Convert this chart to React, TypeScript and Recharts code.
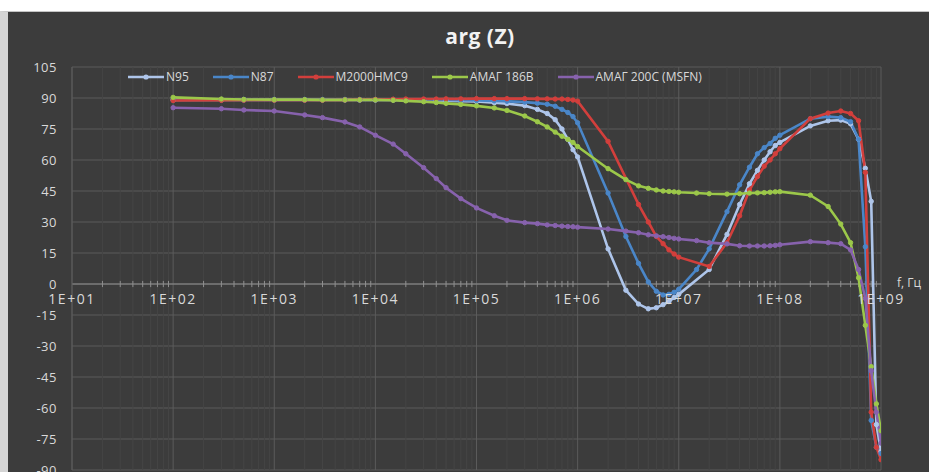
import React from "react";
import { CartesianGrid, Line, LineChart, ReferenceLine, XAxis, YAxis } from "recharts";

const FONT = "'Open Sans', 'DejaVu Sans', sans-serif";
const BG = "#3c3c3c";
const TEXT = "#d9d9d9";
const GRID = "#5b5b5b";
const GRID_MINOR = "#454545";
const AXIS = "#8f8f8f";

// Frequency points, Hz
const FREQ = [
  1e2, 3e2, 5e2, 1e3, 2e3, 3e3, 5e3, 7e3, 1e4, 1.5e4, 2e4, 3e4, 4e4, 5e4, 7e4,
  1e5, 1.5e5, 2e5, 3e5, 4e5, 5e5, 6e5, 7e5, 8e5, 9e5,
  1e6, 2e6, 3e6, 4e6, 5e6, 6e6, 7e6, 8e6, 9e6, 1e7, 1.5e7,
  2e7, 3e7, 4e7, 5e7, 6e7, 7e7, 8e7, 9e7, 1e8,
  2e8, 3e8, 4e8, 5e8, 6e8, 7e8, 8e8, 9e8, 1e9,
];

// arg(Z), degrees; null = no measurement at that frequency
const N95 = [
  89, 89, 89, 89, 89, 89, 89, 89, 89, 89, 89, 88.9, 88.8, 88.7, 88.5,
  88.3, 87.7, 87.3, 86.3, 84.5, 82.5, 79.5, 75, 70, 65,
  61.5, 17, -3, -9.7, -12, -11.5, -10, -8.5, -6.5, -5, null,
  7, 24, 38.5, 48.5, 55, 60, 64, 67, 68.5,
  76.5, 79, 79.3, 77.5, 70, 56, 40, -68, -81,
];
const N87 = [
  89.3, 89.3, 89.3, 89.3, 89.3, 89.3, 89.3, 89.3, 89.3, 89.3, 89.2, 89.1, 89, 89, 88.9,
  88.8, 88.6, 88.4, 88, 87.5, 87, 86, 84.5, 83, 81,
  78, 44, 23, 10, 1, -3.5, -5.3, -5, -4, -2.5, 7,
  17, 35, 48, 56.5, 63, 66, 68, 70.5, 72,
  80, 81, 80.5, 78.5, 70, 18, -66, -79, -82,
];
const M2000 = [
  88.8, 88.9, 89, 89, 89, 89, 89.1, 89.2, 89.3, 89.4, 89.5, 89.5, 89.5, 89.6, 89.6,
  89.7, 89.7, 89.7, 89.7, 89.6, 89.6, 89.5, 89.5, 89.3, 89,
  88.5, 69, null, 38.5, 30, 23, 19.5, 16.5, 14.5, 13, null,
  8.5, 20, 33, 45.5, 52, 57, 60, 63, 65.5,
  80, 82.7, 83.7, 82.5, 79, 54, -62, -79, -85,
];
const AMAG186 = [
  90.3, 89.5, 89.3, 89.2, 89.2, 89.1, 89.1, 89.1, 89.1, 88.9, 88.6, 88.2, 87.8, 87.4, 86.9,
  86.2, 85.2, 84, 81.3, 78.5, 76, 73.5, 71.5, 70, 68.5,
  66.5, 55.8, 50.5, 47.5, 46.3, 45.5, 45, 44.8, 44.6, 44.4, 44,
  43.7, 43.5, 43.7, 44, 44.1, 44.2, 44.4, 44.6, 44.7,
  43, 37.5, 29, 20, 3, -20, -40, -58, -71,
];
const AMAG200 = [
  85.3, 84.8, 84.2, 83.7, 81.8, 80.5, 78.4, 76, 72, 67.7, 63, 56.3, 51, 46.6, 41.3,
  36.8, 33, 30.8, 29.7, 29.2, 28.6, 28.3, 28, 27.8, 27.7,
  27.5, 26.6, 25.6, 24.8, 23.8, 23.3, 22.9, 22.5, 22.1, 21.8, 21,
  20, 19.4, 18.5, 18.4, 18.4, 18.4, 18.5, 18.7, 19,
  20.5, 20, 19.5, 16.5, 7, -7, -42, -62, -77,
];

const Y_TICKS = [-90, -75, -60, -45, -30, -15, 0, 15, 30, 45, 60, 75, 90, 105];
const DECADES = [1e1, 1e2, 1e3, 1e4, 1e5, 1e6, 1e7, 1e8, 1e9];
const DECADE_LABELS = ["1E+01", "1E+02", "1E+03", "1E+04", "1E+05", "1E+06", "1E+07", "1E+08", "1E+09"];
const MINOR_STEPS = [2, 3, 4, 5, 6, 7, 8, 9];

const SERIES = [
  { key: "n95", name: "N95", color: "#aec5ea", values: N95 },
  { key: "n87", name: "N87", color: "#4a86c8", values: N87 },
  { key: "m2000", name: "М2000НМС9", color: "#d23f3c", values: M2000 },
  { key: "amag186", name: "АМАГ 186В", color: "#9cc84a", values: AMAG186 },
  { key: "amag200", name: "АМАГ 200С (MSFN)", color: "#8762ad", values: AMAG200 },
];

const rows = FREQ.map((f, i) => {
  const row: Record<string, number | null> = { f };
  SERIES.forEach((s) => (row[s.key] = s.values[i]));
  return row;
});

const MINOR = DECADES.slice(0, -1).flatMap((d) => MINOR_STEPS.map((m) => d * m));

function LegendKey({ color }: { color: string }) {
  return (
    <svg width={36} height={10} style={{ display: "block" }}>
      <line x1={0} y1={5} x2={36} y2={5} stroke={color} strokeWidth={2.6} />
      <circle cx={18} cy={5} r={2.6} fill={color} />
    </svg>
  );
}

export default function App() {
  return (
    <div style={{ position: "relative", width: 929, height: 472, background: "#fff", overflow: "hidden", fontFamily: FONT }}>
      <style>{"body{margin:0}"}</style>
      <div
        style={{
          position: "absolute", left: 0, top: 11, width: 929, height: 461, boxSizing: "border-box",
          background: BG, borderLeft: "8px solid #d4d4d4", borderTop: "1px solid #c4c4c4",
        }}
      />
      <div
        style={{
          position: "absolute", left: 380, width: 200, top: 22, textAlign: "center",
          color: "#f2f2f2", fontWeight: 700, fontSize: 21, letterSpacing: 0.5,
        }}
      >
        arg (Z)
      </div>
      <div style={{ position: "absolute", left: 8, top: 11 }}>
        <LineChart width={921} height={461} data={rows} margin={{ top: 56, right: 48, bottom: 2, left: 0 }}>
          <CartesianGrid vertical={false} stroke={GRID} />
          {MINOR.map((f) => (
            <ReferenceLine key={"g" + f} x={f} stroke={GRID_MINOR} />
          ))}
          {DECADES.map((f) => (
            <ReferenceLine key={"d" + f} x={f} stroke={GRID} />
          ))}
          <ReferenceLine y={0} stroke={AXIS} />
          {MINOR.map((f) => (
            <ReferenceLine key={"t" + f} segment={[{ x: f, y: -1.5 }, { x: f, y: 1.5 }]} stroke={AXIS} />
          ))}
          {DECADES.map((f, i) => (
            <ReferenceLine
              key={"l" + f}
              segment={[{ x: f, y: 0 }, { x: f, y: -15 }]}
              stroke="none"
              label={{ value: DECADE_LABELS[i], position: "center", fill: TEXT, fontSize: 14, fontFamily: FONT, letterSpacing: 1.5 }}
            />
          ))}
          <XAxis dataKey="f" type="number" scale="log" domain={[10, 1e9]} hide allowDataOverflow />
          <YAxis
            type="number"
            domain={[-90, 105]}
            ticks={Y_TICKS}
            interval={0}
            width={64}
            tickLine={false}
            tickSize={6}
            tickMargin={9}
            axisLine={{ stroke: GRID }}
            tick={{ fill: TEXT, fontSize: 13, fontFamily: FONT, letterSpacing: 0.5 }}
          />
          {SERIES.map((s) => (
            <Line
              key={s.key}
              type="linear"
              dataKey={s.key}
              name={s.name}
              stroke={s.color}
              strokeWidth={2.6}
              dot={{ r: 2.2, fill: s.color, stroke: s.color, strokeWidth: 1 }}
              connectNulls
              isAnimationActive={false}
            />
          ))}
        </LineChart>
      </div>
      <div style={{ position: "absolute", left: 128, top: 68, display: "flex", alignItems: "center", gap: 24 }}>
        {SERIES.map((s) => (
          <div key={s.key} style={{ display: "flex", alignItems: "center", gap: 2 }}>
            <LegendKey color={s.color} />
            <span style={{ color: TEXT, fontSize: 12 }}>{s.name}</span>
          </div>
        ))}
      </div>
      <div style={{ position: "absolute", left: 897, top: 274, color: TEXT, fontSize: 12, whiteSpace: "nowrap" }}>
        f, Гц
      </div>
    </div>
  );
}
